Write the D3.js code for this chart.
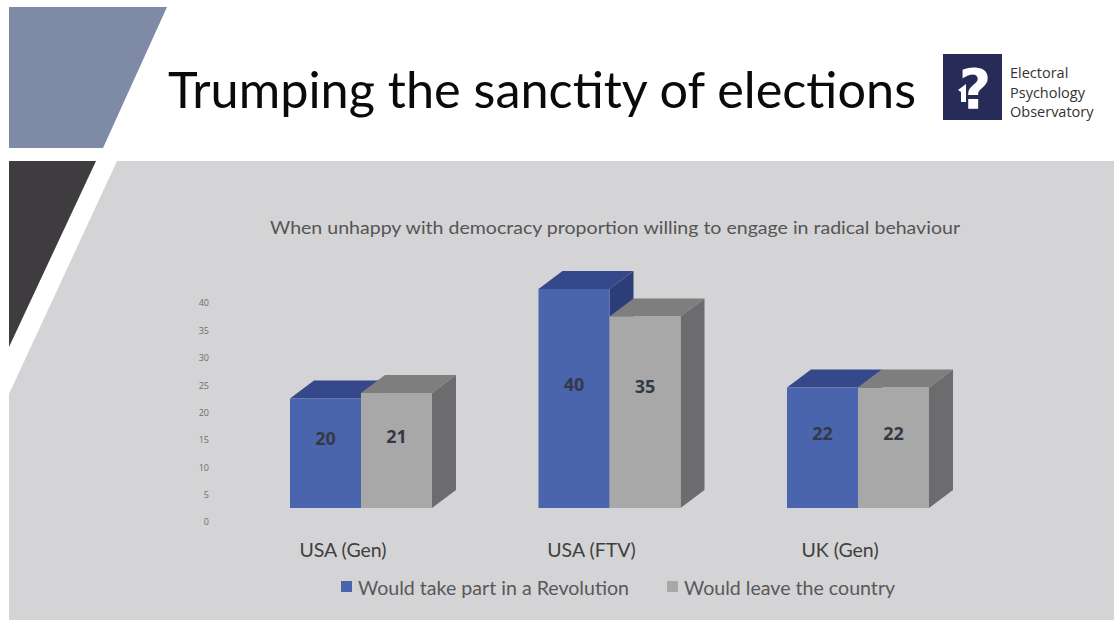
<!DOCTYPE html>
<html>
<head>
<meta charset="utf-8">
<script src="https://cdn.jsdelivr.net/npm/d3@7"></script>
<style>
  html, body { margin: 0; padding: 0; background: #ffffff; }
  svg { display: block; }
</style>
</head>
<body>
<svg id="slide" width="1116" height="622"></svg>
<script>
// Survey results: share of respondents willing to engage in radical behaviour
const categories = ["USA (Gen)", "USA (FTV)", "UK (Gen)"];
const seriesNames = ["Would take part in a Revolution", "Would leave the country"];
const revolution = [20, 40, 22];
const leaveCountry = [21, 35, 22];
const yTicks = [0, 5, 10, 15, 20, 25, 30, 35, 40];

const chartTitle = "When unhappy with democracy proportion willing to engage in radical behaviour";
const slideTitle = "Trumping the sanctity of elections";
const logoLines = ["Electoral", "Psychology", "Observatory"];

// Face colours for each series: front, top, side
const palette = [
  { front: "#4a65ad", top: "#34488a", side: "#2c3d78" },
  { front: "#a8a8a9", top: "#7e7e7f", side: "#6c6b6d" }
];

const svg = d3.select("#slide");

// ---- slide decoration ----
svg.append("rect").attr("x", 0).attr("y", 0).attr("width", 1116).attr("height", 622).attr("fill", "#ffffff");

// chart panel with slanted left edge
svg.append("path")
  .attr("d", "M117,161 L1114,161 L1114,620 L9,620 L9,394 Z")
  .attr("fill", "#d4d3d6");

// blue-grey banner wedge
svg.append("path")
  .attr("d", "M9,7 L167,7 L103,148 L9,148 Z")
  .attr("fill", "#7f8aa6");

// dark wedge
svg.append("path")
  .attr("d", "M9,161 L96,161 L9,347 Z")
  .attr("fill", "#3e3c3f");

// slide title
svg.append("text")
  .attr("x", 168).attr("y", 108)
  .attr("font-family", "Lato, 'Open Sans', sans-serif")
  .attr("font-size", 51)
  .attr("fill", "#0a0a0a")
  .attr("textLength", 748)
  .attr("lengthAdjust", "spacingAndGlyphs")
  .text(slideTitle);

// logo block
const logo = svg.append("g");
logo.append("rect").attr("x", 943).attr("y", 54).attr("width", 59).attr("height", 66).attr("fill", "#262b57");
logo.append("text")
  .attr("x", 975).attr("y", 108)
  .attr("text-anchor", "middle")
  .attr("font-family", "'DejaVu Sans', sans-serif")
  .attr("font-weight", "bold")
  .attr("font-size", 56)
  .attr("fill", "#ffffff")
  .text("?");
logo.append("path")
  .attr("d", "M958,90 L966,84 L966,102 L961,102 L961,92 Z")
  .attr("fill", "#ffffff");
logo.selectAll("text.logo-line")
  .data(logoLines)
  .join("text")
  .attr("class", "logo-line")
  .attr("x", 1010)
  .attr("y", (d, i) => 78 + i * 19.5)
  .attr("font-family", "'Open Sans', 'Noto Sans', sans-serif")
  .attr("font-size", 14.5)
  .attr("fill", "#333333")
  .text(d => d);

// ---- chart ----
svg.append("text")
  .attr("x", 615).attr("y", 227)
  .attr("text-anchor", "middle")
  .attr("dominant-baseline", "central")
  .attr("font-family", "Lato, 'Open Sans', sans-serif")
  .attr("font-size", 17.5)
  .attr("fill", "#555555")
  .attr("textLength", 690)
  .attr("lengthAdjust", "spacingAndGlyphs")
  .text(chartTitle);

const x0 = d3.scaleBand()
  .domain(categories)
  .range([236.75, 982.25])
  .paddingInner(0.4286)
  .paddingOuter(0.2143);

const x1 = d3.scaleBand()
  .domain(d3.range(seriesNames.length))
  .range([0, x0.bandwidth()]);

// front faces sit on the floor; axis labels are set on the back wall plane
const yBar = d3.scaleLinear().domain([0, 40]).range([508, 289]);
const yAxisScale = d3.scaleLinear().domain([0, 40]).range([522, 303]);

// 3D extrusion offset
const depthX = 24, depthY = -18;

// y axis labels only (no line, no ticks)
const yAxis = d3.axisLeft(yAxisScale).tickValues(yTicks).tickSize(0).tickPadding(0);
const yAxisG = svg.append("g").attr("transform", "translate(209,0)").call(yAxis);
yAxisG.select(".domain").remove();
yAxisG.selectAll("text")
  .attr("font-family", "'Open Sans', 'Noto Sans', sans-serif")
  .attr("font-size", 9)
  .attr("fill", "#6e6e6e");

const bars = [];
categories.forEach((c, ci) => {
  [revolution, leaveCountry].forEach((series, si) => {
    bars.push({ category: c, ci, si, value: series[ci] });
  });
});

const barG = svg.append("g");
const barGroups = barG.selectAll("g.bar")
  .data(bars)
  .join("g")
  .attr("class", "bar");

barGroups.each(function(d) {
  const g = d3.select(this);
  const xl = x0(d.category) + x1(d.si);
  const xr = xl + x1.bandwidth();
  const yt = yBar(d.value);
  const yb = yBar(0);
  const col = palette[d.si];
  // side face
  g.append("path")
    .attr("d", `M${xr},${yt} L${xr + depthX},${yt + depthY} L${xr + depthX},${yb + depthY} L${xr},${yb} Z`)
    .attr("fill", col.side);
  // top face
  g.append("path")
    .attr("d", `M${xl},${yt} L${xr},${yt} L${xr + depthX},${yt + depthY} L${xl + depthX},${yt + depthY} Z`)
    .attr("fill", col.top);
  // front face
  g.append("rect")
    .attr("x", xl).attr("y", yt)
    .attr("width", xr - xl).attr("height", yb - yt)
    .attr("fill", col.front);
});

// value labels
const groupMax = categories.map((c, i) => Math.max(revolution[i], leaveCountry[i]));
barG.selectAll("text.value")
  .data(bars)
  .join("text")
  .attr("class", "value")
  .attr("x", d => x0(d.category) + x1(d.si) + x1.bandwidth() / 2)
  .attr("y", d => (yBar(0) + yBar(groupMax[d.ci])) / 2 - 15 + (d.value < groupMax[d.ci] ? 2 : 0))
  .attr("text-anchor", "middle")
  .attr("dominant-baseline", "central")
  .attr("font-family", "'Open Sans', 'Noto Sans', sans-serif")
  .attr("font-weight", "bold")
  .attr("font-size", 18)
  .attr("fill", "#333a45")
  .text(d => d.value);

// category labels
svg.selectAll("text.cat")
  .data(categories)
  .join("text")
  .attr("class", "cat")
  .attr("x", d => x0(d) + x0.bandwidth() / 2 - 18)
  .attr("y", 549)
  .attr("text-anchor", "middle")
  .attr("dominant-baseline", "central")
  .attr("font-family", "Lato, 'Open Sans', sans-serif")
  .attr("font-size", 19.5)
  .attr("fill", "#404040")
  .text(d => d);

// legend
const legendX = [341, 667];
const legend = svg.selectAll("g.legend")
  .data(seriesNames)
  .join("g")
  .attr("class", "legend")
  .attr("transform", (d, i) => `translate(${legendX[i]},587)`);
legend.append("rect")
  .attr("x", 0).attr("y", -6)
  .attr("width", 11).attr("height", 11)
  .attr("fill", (d, i) => palette[i].front);
legend.append("text")
  .attr("x", 17).attr("y", 0)
  .attr("dominant-baseline", "central")
  .attr("font-family", "Lato, 'Open Sans', sans-serif")
  .attr("font-size", 19.6)
  .attr("fill", "#595959")
  .text(d => d);
</script>
</body>
</html>
